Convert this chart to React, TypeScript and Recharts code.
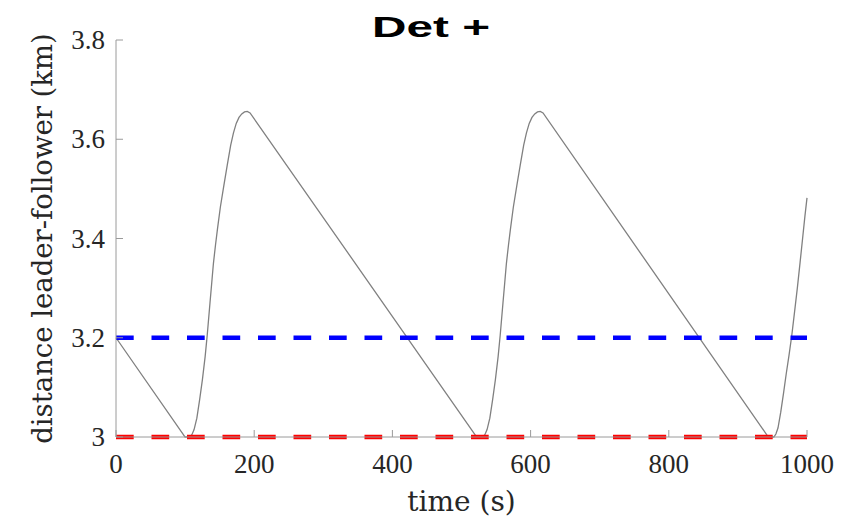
import React from "react";
import { LineChart, Line, XAxis, YAxis, ReferenceLine } from "recharts";

// time (s)
const timeS = [
  0, 100, 107, 110, 113, 117, 121, 125, 129, 132, 136, 139, 141, 144, 147, 151, 156, 161, 166, 170, 174, 178, 182, 186, 190, 194,
  522, 531, 534, 537, 541, 545, 549, 553, 556, 560, 563, 565, 568, 571, 575, 580, 585, 590, 594, 598, 602, 606, 610, 614, 618,
  944, 952, 955, 958, 962, 966, 970, 974, 978, 982, 986, 990, 994, 997, 1000,
];
// distance leader-follower (km)
const distanceKm = [
  3.2, 3.0, 3.0, 3.005, 3.015, 3.038, 3.075, 3.115, 3.162, 3.205, 3.27, 3.318, 3.35, 3.387, 3.421, 3.463, 3.506, 3.548, 3.588, 3.613, 3.632, 3.644, 3.651, 3.655, 3.656, 3.653,
  3.0, 3.0, 3.005, 3.015, 3.038, 3.075, 3.115, 3.162, 3.205, 3.27, 3.318, 3.35, 3.387, 3.421, 3.463, 3.506, 3.548, 3.588, 3.613, 3.632, 3.644, 3.651, 3.655, 3.656, 3.653,
  3.0, 3.0, 3.006, 3.018, 3.05, 3.088, 3.128, 3.165, 3.205, 3.252, 3.3, 3.352, 3.405, 3.445, 3.482,
];
const upperThreshold = 3.2;
const lowerThreshold = 3.0;

const xTicks = [0, 200, 400, 600, 800, 1000];
const yTicks = [3, 3.2, 3.4, 3.6, 3.8];
const titleText = "Det +";
const xLabel = "time (s)";
const yLabel = "distance leader-follower (km)";

const data = timeS.map((t, i) => ({ t, d: distanceKm[i] }));

const AXIS = "#9a9a9a";
const TEXT = "#262626";
const TICK_FONT = "'Liberation Serif', serif";
const LABEL_FONT = "'DejaVu Serif', serif";

const XTick = (props: any) => {
  const { x, y, payload } = props;
  return (
    <g>
      <line x1={x} y1={y} x2={x} y2={y - 7} stroke={AXIS} strokeWidth={1} />
      <text x={x} y={y + 36} textAnchor="middle" fill={TEXT} fontFamily={TICK_FONT} fontSize={27}>
        {String(payload.value)}
      </text>
    </g>
  );
};

const YTick = (props: any) => {
  const { x, y, payload } = props;
  return (
    <g>
      <line x1={x} y1={y} x2={x + 7} y2={y} stroke={AXIS} strokeWidth={1} />
      <text x={x - 11} y={y + 9} textAnchor="end" fill={TEXT} fontFamily={TICK_FONT} fontSize={27}>
        {String(payload.value)}
      </text>
    </g>
  );
};

export default function App() {
  return (
    <div style={{ position: "absolute", left: 0, top: 0, width: 849, height: 522, background: "#fff" }}>
      <LineChart width={849} height={522} data={data} margin={{ top: 40, right: 42, bottom: 0, left: 0 }}>
        <XAxis
          dataKey="t"
          type="number"
          domain={[0, 1000]}
          ticks={xTicks}
          tickSize={0}
          tickMargin={0}
          tickLine={false}
          height={85}
          stroke={AXIS}
          tick={<XTick />}
          interval={0}
          label={{
            value: xLabel,
            content: (p: any) => {
              const vb = p.viewBox;
              return (
                <text x={vb.x + vb.width / 2} y={vb.y + 74} textAnchor="middle" fill={TEXT} fontFamily={LABEL_FONT} fontSize={28}>
                  {xLabel}
                </text>
              );
            },
          }}
        />
        <YAxis
          type="number"
          domain={[3, 3.8]}
          ticks={yTicks}
          tickSize={0}
          tickMargin={0}
          tickLine={false}
          width={116}
          stroke={AXIS}
          tick={<YTick />}
          interval={0}
          label={{
            value: yLabel,
            content: (p: any) => {
              const vb = p.viewBox;
              const cy = vb.y + vb.height / 2;
              return (
                <text
                  x={52}
                  y={cy}
                  transform={`rotate(-90, 52, ${cy})`}
                  textAnchor="middle"
                  fill={TEXT}
                  fontFamily={LABEL_FONT}
                  fontSize={27.5}
                >
                  {yLabel}
                </text>
              );
            },
          }}
        />
        <Line
          dataKey="d"
          type="linear"
          stroke="#808080"
          strokeWidth={1.3}
          dot={false}
          activeDot={false}
          isAnimationActive={false}
        />
        <ReferenceLine y={upperThreshold} stroke="#0000ff" strokeWidth={4.5} strokeDasharray="17.7 17.8" />
        <ReferenceLine y={lowerThreshold} stroke="#ff0000" strokeWidth={4.5} strokeDasharray="17.7 17.8" />
      </LineChart>
      <svg width={849} height={522} style={{ position: "absolute", left: 0, top: 0, pointerEvents: "none" }}>
        <text
          x={372}
          y={37}
          textLength={118}
          lengthAdjust="spacingAndGlyphs"
          fontFamily="'Liberation Sans', Arial, sans-serif"
          fontWeight="bold"
          fontSize={30}
          fill="#000"
        >
          {titleText}
        </text>
      </svg>
    </div>
  );
}
